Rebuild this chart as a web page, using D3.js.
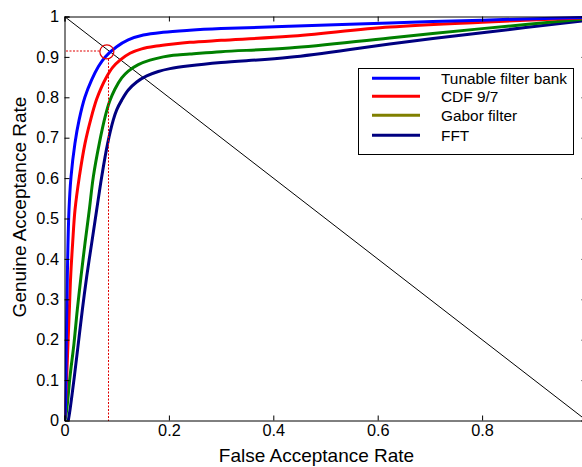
<!DOCTYPE html>
<html>
<head>
<meta charset="utf-8">
<script src="https://cdn.jsdelivr.net/npm/d3@7"></script>
<style>
html,body{margin:0;padding:0;background:#fff;}
svg{display:block;font-family:"Liberation Sans",Arial,sans-serif;}
</style>
</head>
<body>
<svg id="chart" width="582" height="467"></svg>
<script>
// ---- data ----
const seriesNames = ["Tunable filter bank", "CDF 9/7", "Gabor filter", "FFT"];

const tfbFar = [0, 0.0016, 0.0035, 0.0054, 0.0086, 0.0125, 0.020, 0.028, 0.039, 0.052, 0.065, 0.078, 0.10, 0.122, 0.151, 0.189, 0.24, 0.3, 0.431, 0.623, 0.8, 1.0];
const tfbGar = [0, 0.026, 0.191, 0.356, 0.521, 0.603, 0.686, 0.744, 0.80, 0.843, 0.876, 0.90, 0.925, 0.942, 0.954, 0.961, 0.966, 0.97, 0.976, 0.984, 0.991, 0.998];

const cdfFar = [0, 0.0016, 0.0042, 0.0067, 0.0093, 0.0118, 0.0156, 0.0201, 0.0284, 0.0393, 0.0508, 0.0615, 0.0705, 0.0795, 0.0923, 0.1063, 0.1255, 0.1479, 0.1766, 0.2084, 0.24, 0.3, 0.431, 0.623, 0.8, 1.0];
const cdfGar = [0, 0.026, 0.108, 0.191, 0.274, 0.356, 0.439, 0.521, 0.603, 0.686, 0.748, 0.795, 0.824, 0.848, 0.874, 0.892, 0.909, 0.92, 0.927, 0.932, 0.936, 0.941, 0.951, 0.974, 0.986, 0.997];

const gaborFar = [0.001, 0.0042, 0.0105, 0.0182, 0.0245, 0.0316, 0.0393, 0.0475, 0.0552, 0.0667, 0.0785, 0.0865, 0.0965, 0.1096, 0.1222, 0.1414, 0.1638, 0.1893, 0.2084, 0.24, 0.3, 0.431, 0.623, 0.8, 1.0];
const gaborGar = [0, 0.026, 0.108, 0.191, 0.274, 0.356, 0.439, 0.521, 0.603, 0.686, 0.755, 0.79, 0.82, 0.848, 0.865, 0.881, 0.892, 0.9, 0.904, 0.907, 0.913, 0.922, 0.947, 0.97, 0.994];

const fftFar = [0.0073, 0.0105, 0.0188, 0.0265, 0.0342, 0.0425, 0.0521, 0.0616, 0.0712, 0.0827, 0.0935, 0.1, 0.1096, 0.1222, 0.1383, 0.1575, 0.1797, 0.2021, 0.24, 0.3, 0.431, 0.623, 0.8, 1.0];
const fftGar = [0, 0.026, 0.108, 0.191, 0.274, 0.356, 0.439, 0.521, 0.603, 0.686, 0.744, 0.769, 0.793, 0.818, 0.838, 0.853, 0.864, 0.871, 0.878, 0.886, 0.899, 0.932, 0.96, 0.99];

const eerPoint = [0.084, 0.915];

const xTicks = [0, 0.2, 0.4, 0.6, 0.8];
const yTicks = [0, 0.1, 0.2, 0.3, 0.4, 0.5, 0.6, 0.7, 0.8, 0.9, 1];
const xTickLabels = ["0", "0.2", "0.4", "0.6", "0.8"];
const yTickLabels = ["0", "0.1", "0.2", "0.3", "0.4", "0.5", "0.6", "0.7", "0.8", "0.9", "1"];

const curveColors = ["#0000ff", "#ff0000", "#008000", "#000080"];
const legendColors = ["#0000ff", "#ff0000", "#808000", "#000080"];

// ---- drawing ----
const svg = d3.select("#chart");
const L = 64.5, R = 586.5, T = 16.5, B = 420.5;
const x = d3.scaleLinear().domain([0, 1]).range([L, R]);
const y = d3.scaleLinear().domain([0, 1]).range([B, T]);

const series = [
  {far: tfbFar, gar: tfbGar},
  {far: cdfFar, gar: cdfGar},
  {far: gaborFar, gar: gaborGar},
  {far: fftFar, gar: fftGar}
];

svg.append("defs").append("clipPath").attr("id", "plotclip")
  .append("rect").attr("x", L).attr("y", T - 2).attr("width", R - L + 2).attr("height", B - T + 3);

const plot = svg.append("g").attr("clip-path", "url(#plotclip)");

// diagonal
plot.append("line")
  .attr("x1", x(0)).attr("y1", y(1)).attr("x2", x(1)).attr("y2", y(0))
  .attr("stroke", "#000").attr("stroke-width", 1);

const line = d3.line().x(d => x(d[0])).y(d => y(d[1])).curve(d3.curveCatmullRom.alpha(0.5));

series.map((s, i) => ({pts: s.far.map((f, j) => [f, s.gar[j]]), i}))
  .reverse()
  .forEach(s => {
    plot.append("path")
      .attr("d", line(s.pts))
      .attr("fill", "none")
      .attr("stroke", curveColors[s.i])
      .attr("stroke-width", 3)
      .attr("stroke-linejoin", "round");
  });

// EER dotted guides and circle
const ex = x(eerPoint[0]), ey = y(eerPoint[1]);
const vx = Math.round(ex) + 0.5, hy = Math.round(ey);
const cx = ex - 1.5, cy = ey + 1;
plot.append("line")
  .attr("x1", Math.round(x(0)) + 1).attr("y1", hy).attr("x2", Math.round(cx - 7)).attr("y2", hy)
  .attr("stroke", "#e00000").attr("stroke-width", 1.2).attr("stroke-dasharray", "2,1.5");
plot.append("line")
  .attr("x1", vx).attr("y1", Math.round(cy + 7)).attr("x2", vx).attr("y2", Math.round(y(0)))
  .attr("stroke", "#e00000").attr("stroke-width", 1).attr("stroke-dasharray", "2,1.5");
plot.append("circle")
  .attr("cx", cx).attr("cy", cy).attr("r", 7)
  .attr("fill", "none").attr("stroke", "#e00000").attr("stroke-width", 1.2);

// axes
const fontSize = 16.3;
const xAxis = d3.axisBottom(x).tickValues(xTicks).tickSize(-5).tickPadding(3.5)
  .tickFormat((d, i) => xTickLabels[i]);
const yAxis = d3.axisLeft(y).tickValues(yTicks).tickSize(-5).tickPadding(5.5)
  .tickFormat((d, i) => yTickLabels[i]);

const gx = svg.append("g").attr("transform", `translate(0,${B})`).call(xAxis);
const gy = svg.append("g").attr("transform", `translate(${L},0)`).call(yAxis);
const gt = svg.append("g").attr("transform", `translate(0,${T})`)
  .call(d3.axisTop(x).tickValues(xTicks).tickSize(-5).tickFormat(""));
const gr = svg.append("g").attr("transform", `translate(${R},0)`)
  .call(d3.axisRight(y).tickValues(yTicks).tickSize(-5).tickFormat(""));

[gx, gy, gt, gr].forEach(g => {
  g.select(".domain").attr("stroke", "#000").attr("stroke-width", 1);
  g.selectAll(".tick line").attr("stroke", "#000").attr("stroke-width", 1);
  g.selectAll(".tick text").attr("fill", "#000").style("font-size", fontSize + "px")
    .style("font-family", '"Liberation Sans", Arial, sans-serif');
});

// axis titles
svg.append("text")
  .attr("x", 316.5).attr("y", 461.5)
  .attr("text-anchor", "middle")
  .style("font-size", "19px")
  .text("False Acceptance Rate");
svg.append("text")
  .attr("transform", "translate(25.5,207) rotate(-90)")
  .attr("text-anchor", "middle")
  .style("font-size", "19px")
  .text("Genuine Acceptance Rate");

// legend
const lg = svg.append("g");
lg.append("rect").attr("x", 358.5).attr("y", 68.5).attr("width", 215).attr("height", 86)
  .attr("fill", "#fff").attr("stroke", "#000").attr("stroke-width", 1);
const rowY = [78.3, 96.3, 115.3, 135.3];
seriesNames.forEach((name, i) => {
  lg.append("line").attr("x1", 372).attr("x2", 420).attr("y1", rowY[i]).attr("y2", rowY[i])
    .attr("stroke", legendColors[i]).attr("stroke-width", 3);
  lg.append("text").attr("x", 441).attr("y", rowY[i]).attr("dy", "0.35em")
    .style("font-size", "15.4px").text(name);
});
</script>
</body>
</html>
